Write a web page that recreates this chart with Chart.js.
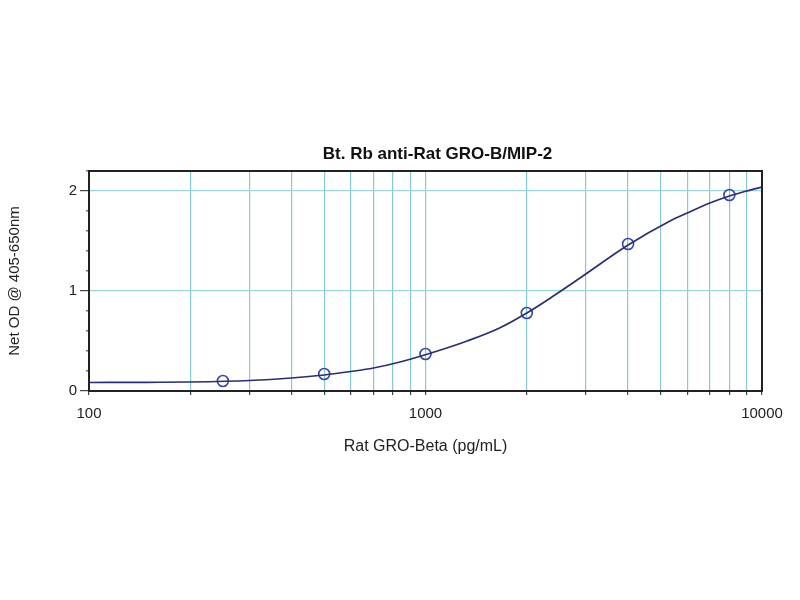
<!DOCTYPE html>
<html><head><meta charset="utf-8">
<script src="https://cdn.jsdelivr.net/npm/chart.js@4"></script>
<style>html,body{margin:0;padding:0;background:#fff}#wrap{width:800px;height:600px}</style>
</head><body><div id="wrap"><canvas id="c" width="800" height="600"></canvas></div>
<script>
const chartTitle = "Bt. Rb anti-Rat GRO-B/MIP-2";
const xTitle = "Rat GRO-Beta (pg/mL)";
const yTitle = "Net OD @ 405-650nm";
const xTickLabels = [100, 1000, 10000];
const yTickLabels = [0, 1, 2];
const yMinorTicks = [0.2, 0.4, 0.6, 0.8, 1.2, 1.4, 1.6, 1.8, 2.2];
// measured standards
const standardConc = [250, 500, 1000, 2000, 4000, 8000];
const standardOD   = [0.10, 0.17, 0.37, 0.78, 1.47, 1.96];
// fitted curve
const curveConc = [100, 150, 200, 300, 400, 500, 600, 700, 840, 1050, 1330, 1660, 2000, 2400, 2880, 4000, 5330, 6000, 7000, 8000, 9000, 10000];
const curveOD   = [0.085, 0.087, 0.09, 0.105, 0.13, 0.16, 0.195, 0.23, 0.29, 0.385, 0.50, 0.63, 0.78, 0.95, 1.13, 1.46, 1.70, 1.78, 1.88, 1.95, 2.0, 2.04];

const FONT = "'Liberation Sans', Arial, sans-serif";
const frameAndTitle = {
  id: 'frameAndTitle',
  afterDraw(chart) {
    const a = chart.chartArea, ctx = chart.ctx;
    ctx.save();
    ctx.strokeStyle = '#222';
    ctx.lineWidth = 2;
    ctx.strokeRect(a.left, a.top, a.right - a.left, a.bottom - a.top);
    ctx.fillStyle = '#111';
    ctx.font = "bold 17px " + FONT;
    ctx.textAlign = 'center';
    ctx.textBaseline = 'middle';
    ctx.fillText(chartTitle, (a.left + a.right) / 2 + 12, a.top - 17);
    ctx.restore();
  }
};

new Chart(document.getElementById('c'), {
  type: 'scatter',
  data: {
    datasets: [
      {
        type: 'line',
        data: curveConc.map((x, i) => ({x, y: curveOD[i]})),
        borderColor: '#2a2f6e',
        borderWidth: 1.7,
        pointRadius: 0,
        cubicInterpolationMode: 'monotone',
        fill: false
      },
      {
        data: standardConc.map((x, i) => ({x, y: standardOD[i]})),
        borderColor: '#3846a0',
        backgroundColor: 'rgba(255,255,255,0)',
        borderWidth: 1.6,
        pointRadius: 5.5,
        pointStyle: 'circle'
      }
    ]
  },
  options: {
    responsive: false,
    animation: false,
    layout: { padding: { top: 171, right: 38, bottom: 140, left: 0 } },
    plugins: {
      legend: { display: false },
      tooltip: { enabled: false },
      title: { display: false }
    },
    scales: {
      x: {
        type: 'logarithmic', min: 100, max: 10000,
        afterBuildTicks(scale) {
          const t = [];
          for (let d = 100; d < 10000; d *= 10) for (let m = 1; m < 10; m++) t.push({value: d * m});
          t.push({value: 10000});
          scale.ticks = t;
        },
        afterFit(scale) { scale.height = 69; },
        ticks: {
          autoSkip: false, maxRotation: 0, color: '#222', padding: 10,
          font: { family: FONT, size: 15 },
          callback: (v) => xTickLabels.includes(v) ? String(v) : ''
        },
        grid: {
          color: (c) => (c.tick && c.tick.value === 100) ? 'rgba(0,0,0,0)' : '#86c9d1',
          lineWidth: 1.2, tickLength: 4, tickColor: '#444'
        },
        border: { display: false },
        title: { display: true, text: xTitle, color: '#222', font: { family: FONT, size: 16 }, padding: { top: 0, bottom: 4 } }
      },
      y: {
        min: 0, max: 2.2, weight: 1,
        afterBuildTicks(scale) { scale.ticks = yTickLabels.map(v => ({value: v})); },
        afterFit(scale) { scale.width = 89; },
        ticks: {
          autoSkip: false, color: '#222', padding: 3,
          font: { family: FONT, size: 15 },
          callback: (v) => String(v)
        },
        grid: {
          color: (c) => (c.tick && c.tick.value > 0) ? '#9fd4da' : 'rgba(0,0,0,0)',
          lineWidth: 1.2, tickLength: 9, tickColor: '#444'
        },
        border: { display: false },
        title: { display: true, text: yTitle, color: '#222', font: { family: FONT, size: 15 }, padding: { top: 6, bottom: 0 } }
      },
      yMinor: {
        position: 'left', min: 0, max: 2.2, weight: 0,
        afterBuildTicks(scale) { scale.ticks = yMinorTicks.map(v => ({value: v})); },
        afterFit(scale) { scale.width = 0; },
        ticks: { display: false },
        grid: { drawOnChartArea: false, tickLength: 3, tickColor: '#777', lineWidth: 1.5 },
        border: { display: false }
      }
    }
  },
  plugins: [frameAndTitle]
});
</script>
</body></html>
